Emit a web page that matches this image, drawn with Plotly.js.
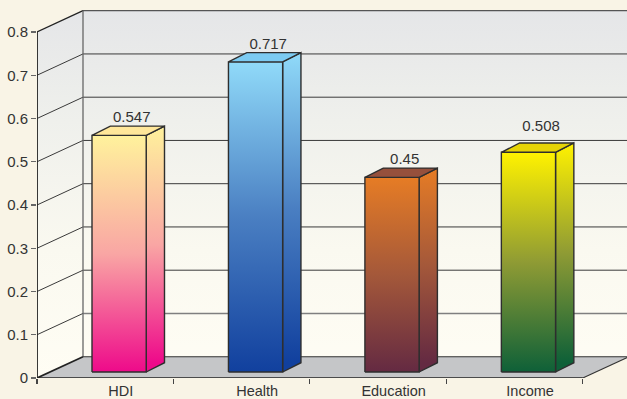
<!DOCTYPE html>
<html>
<head>
<meta charset="utf-8">
<script src="https://cdn.plot.ly/plotly-3.0.1.min.js"></script>
<style>html,body{margin:0;padding:0;background:#f9f4e6;overflow:hidden}</style>
</head>
<body>
<div id="chart" style="width:627px;height:399px"></div>
<script>
// ---- data ----
const categories = ['HDI', 'Health', 'Education', 'Income'];
const values = [0.547, 0.717, 0.45, 0.508];
const valueLabels = ['0.547', '0.717', '0.45', '0.508'];
const yTicks = [0, 0.1, 0.2, 0.3, 0.4, 0.5, 0.6, 0.7, 0.8];
const yTickText = ['0', '0.1', '0.2', '0.3', '0.4', '0.5', '0.6', '0.7', '0.8'];

// ---- styles ----
const frontColors = [
  [[0,'#ee0a8a'],[0.5,'#f9a6a4'],[1,'#fff29c']],
  [[0,'#11409e'],[0.5,'#4a7fc2'],[1,'#90daf9']],
  [[0,'#642a42'],[0.5,'#a4583a'],[1,'#e67c25']],
  [[0,'#0e6038'],[0.5,'#8f9b34'],[1,'#fff200']]
];
const topColors = ['#ffe79a', '#7ccbf2', '#96503c', '#e6d406'];
const labelLift = [0, 0, 0, 0.018];

// ---- oblique projection, in axis units ----
const bandPx = 136.45, unitPx = 432.5;
const leftM = 37, floorPx = 378;
const depthX = 46 / bandPx, depthY = 21.3 / unitPx;
const barX0 = 55 / bandPx, barW = 54.2 / bandPx;
const barDepthFrontY = 6 / unitPx;
const sideX = 18.3 / bandPx, sideY = 9.3 / unitPx;
const maxV = yTicks[yTicks.length - 1];
const xEnd = categories.length;

const ink = '#2e2e2e';
const traces = [];
function poly(xs, ys, fill, line, width) {
  const t = {x: xs, y: ys, mode: 'lines', type: 'scatter', fill: 'toself', hoverinfo: 'skip',
    showlegend: false, line: {color: line || 'rgba(0,0,0,0)', width: width === undefined ? 0 : width}};
  if (typeof fill === 'string') t.fillcolor = fill; else t.fillgradient = fill;
  traces.push(t);
}
function seg(xs, ys, color, width) {
  traces.push({x: xs, y: ys, mode: 'lines', type: 'scatter', hoverinfo: 'skip', showlegend: false,
    cliponaxis: false, line: {color: color, width: width}});
}
const wallGrad = {type: 'vertical', start: 0, stop: maxV + depthY,
  colorscale: [[0,'#fffdf4'],[0.35,'#faf9f0'],[0.7,'#eff0ec'],[1,'#e5e6e8']]};
// left wall
poly([0, depthX, depthX, 0, 0], [0, depthY, maxV + depthY, maxV, 0], wallGrad);
// back wall
poly([depthX, xEnd + depthX, xEnd + depthX, depthX, depthX],
     [depthY, depthY, maxV + depthY, maxV + depthY, depthY], wallGrad);
// floor
poly([0, xEnd, xEnd + depthX, depthX, 0], [0, 0, depthY, depthY, 0], '#c5c6c8');

// grid lines
yTicks.slice(1).forEach(v => {
  const c = v === yTicks[1] ? '#7f7f7f' : '#3a3a3a';
  const w = v === yTicks[1] ? 1.4 : 1;
  if (v < maxV) seg([depthX, xEnd + depthX], [v + depthY, v + depthY], c, w);
  if (v < maxV) seg([0, depthX], [v, v + depthY], '#3a3a3a', 1);
});
// wall and floor outlines
seg([depthX, xEnd + depthX], [maxV + depthY, maxV + depthY], '#555555', 1.3);
seg([0, depthX], [maxV, maxV + depthY], '#222222', 1.3);
seg([depthX, depthX], [depthY, maxV + depthY], '#666666', 1.3);
seg([depthX, xEnd + depthX], [depthY, depthY], '#333333', 1.1);
seg([0, depthX], [0, depthY], '#222222', 1.7);
seg([xEnd, xEnd + depthX], [0, depthY], '#333333', 1.1);
seg([0, xEnd], [0, 0], '#222222', 1.5);
seg([0, 0], [0, maxV], '#222222', 1.8);

// bars
values.forEach((v, i) => {
  const x0 = i + barX0, x1 = x0 + barW, x2 = x1 + sideX;
  const y0 = barDepthFrontY, y1 = y0 + v, b = y0 + sideY, t = y1 + sideY;
  const front = {type: 'vertical', start: y0, stop: y1, colorscale: frontColors[i]};
  const side = {type: 'vertical', start: b, stop: t, colorscale: frontColors[i]};
  poly([x1, x2, x2, x1, x1], [y0, b, t, y1, y0], side, ink, 1.4);
  poly([x0, x1, x1, x0, x0], [y0, y0, y1, y1, y0], front, ink, 1.4);
  poly([x0, x1, x2, x0 + sideX, x0], [y1, y1, t, t, y1], topColors[i], ink, 1.4);
});

// value labels
traces.push({
  type: 'scatter', mode: 'text', showlegend: false, hoverinfo: 'skip', cliponaxis: false,
  x: values.map((v, i) => i + barX0 + barW / 2 + sideX / 2 + 3.5 / bandPx),
  y: values.map((v, i) => v + barDepthFrontY + sideY + labelLift[i]),
  text: valueLabels, textposition: 'top center',
  textfont: {family: 'Liberation Sans, Arial, sans-serif', size: 15, color: '#333333'}
});

const layout = {
  width: 627, height: 399,
  margin: {l: leftM, r: 0, t: 4, b: 399 - floorPx},
  paper_bgcolor: '#f9f4e6', plot_bgcolor: 'rgba(0,0,0,0)',
  showlegend: false,
  font: {family: 'Liberation Sans, Arial, sans-serif', size: 15, color: '#333333'},
  xaxis: {
    range: [0, (627 - leftM) / bandPx], showgrid: false, zeroline: false, showline: false,
    tickmode: 'array',
    tickvals: categories.map((c, i) => i + 0.5 + 15.5 / bandPx),
    ticktext: categories, ticks: '', ticklen: 0, ticklabelstandoff: 2,
    tickfont: {family: 'Liberation Sans, Arial, sans-serif', size: 14.5, color: '#333333'},
    minor: {tickmode: 'array', tickvals: categories.map((c, i) => i).concat([xEnd]),
      ticks: 'outside', ticklen: 5, tickcolor: '#444444', tickwidth: 1.1, showgrid: false},
    fixedrange: true
  },
  yaxis: {
    range: [0, (floorPx - 4) / unitPx], showgrid: false, zeroline: false, showline: false,
    tickmode: 'array', tickvals: yTicks, ticktext: yTickText,
    ticks: 'outside', ticklen: 5, tickcolor: '#666666', tickwidth: 1.1, fixedrange: true
  }
};
Plotly.newPlot('chart', traces, layout, {displayModeBar: false, staticPlot: true});
</script>
</body>
</html>
